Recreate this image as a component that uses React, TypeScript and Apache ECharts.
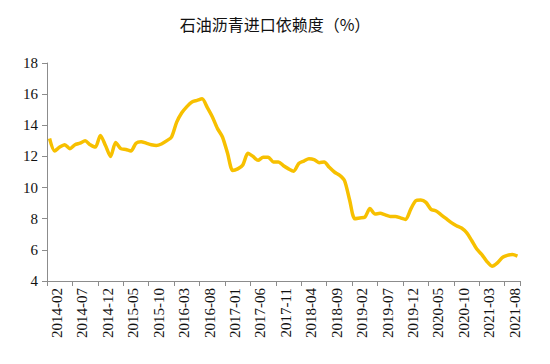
import React, { useEffect, useRef } from "react";
import * as echarts from "echarts";

const TITLE = "石油沥青进口依赖度（%）";

function buildMonths(startYear: number, startMonth: number, count: number): string[] {
  const out: string[] = [];
  let y = startYear;
  let m = startMonth;
  for (let i = 0; i < count; i++) {
    out.push(`${y}-${m < 10 ? "0" + m : m}`);
    m++;
    if (m > 12) {
      m = 1;
      y++;
    }
  }
  return out;
}

const dependencyValues: number[] = [
  13.15, 12.35, 12.6, 12.75, 12.5, 12.75, 12.85, 13.0, 12.75, 12.6,
  13.35, 12.7, 12.0, 12.9, 12.5, 12.45, 12.35, 12.85, 12.95, 12.85,
  12.75, 12.7, 12.8, 13.0, 13.25, 14.2, 14.8, 15.2, 15.5, 15.6,
  15.7, 15.15, 14.55, 13.8, 13.25, 12.2, 11.1, 11.2, 11.45, 12.2,
  12.0, 11.75, 11.95, 11.95, 11.65, 11.65, 11.4, 11.2, 11.05, 11.55,
  11.7, 11.85, 11.8, 11.6, 11.65, 11.3, 11.0, 10.8, 10.45, 9.2,
  8.0, 8.05, 8.1, 8.65, 8.3, 8.35, 8.25, 8.15, 8.15, 8.05,
  7.95, 8.6, 9.15, 9.2, 9.05, 8.6, 8.5, 8.25, 8.0, 7.75,
  7.55, 7.4, 7.1, 6.6, 6.05, 5.7, 5.25, 4.95, 5.15, 5.5,
  5.65, 5.7, 5.6,
];

const months: string[] = buildMonths(2014, 2, dependencyValues.length);

const yMin = 4;
const yMax = 18;
const yStep = 2;

export default function App() {
  const ref = useRef<HTMLDivElement>(null);

  useEffect(() => {
    if (!ref.current) return;
    const chart = echarts.init(ref.current, null, { renderer: "svg" });
    const axisColor = "#8c8c8c";
    const labelFont = "'Liberation Serif', 'Times New Roman', serif";
    chart.setOption({
      animation: false,
      backgroundColor: "#ffffff",
      title: {
        text: TITLE,
        left: "center",
        top: 11,
        textStyle: {
          fontFamily: "'Noto Sans CJK SC', sans-serif",
          fontWeight: "normal",
          fontSize: 16,
          color: "#111111",
        },
      },
      grid: {
        left: 47,
        right: 30,
        top: 63,
        bottom: 83,
        containLabel: false,
      },
      xAxis: {
        type: "category",
        data: months,
        boundaryGap: true,
        axisLine: { show: true, lineStyle: { color: axisColor, width: 1 } },
        axisTick: {
          show: true,
          interval: 4,
          alignWithLabel: false,
          length: 5,
          lineStyle: { color: axisColor },
        },
        axisLabel: {
          interval: 4,
          rotate: 90,
          margin: 7,
          fontFamily: labelFont,
          fontSize: 15,
          color: "#111111",
          verticalAlign: "top",
        },
        splitLine: { show: false },
      },
      yAxis: {
        type: "value",
        min: yMin,
        max: yMax,
        interval: yStep,
        axisLine: { show: true, lineStyle: { color: axisColor, width: 1 } },
        axisTick: { show: true, length: 5, lineStyle: { color: axisColor } },
        axisLabel: {
          margin: 9,
          fontFamily: labelFont,
          fontSize: 15,
          color: "#111111",
        },
        splitLine: { show: false },
      },
      series: [
        {
          type: "line",
          data: dependencyValues,
          showSymbol: false,
          smooth: 0.25,
          lineStyle: { color: "#F7C000", width: 3.5 },
          itemStyle: { color: "#F7C000" },
        },
      ],
    });
    return () => chart.dispose();
  }, []);

  return <div ref={ref} style={{ width: 550, height: 364, marginLeft: -8, marginTop: -8 }} />;
}
